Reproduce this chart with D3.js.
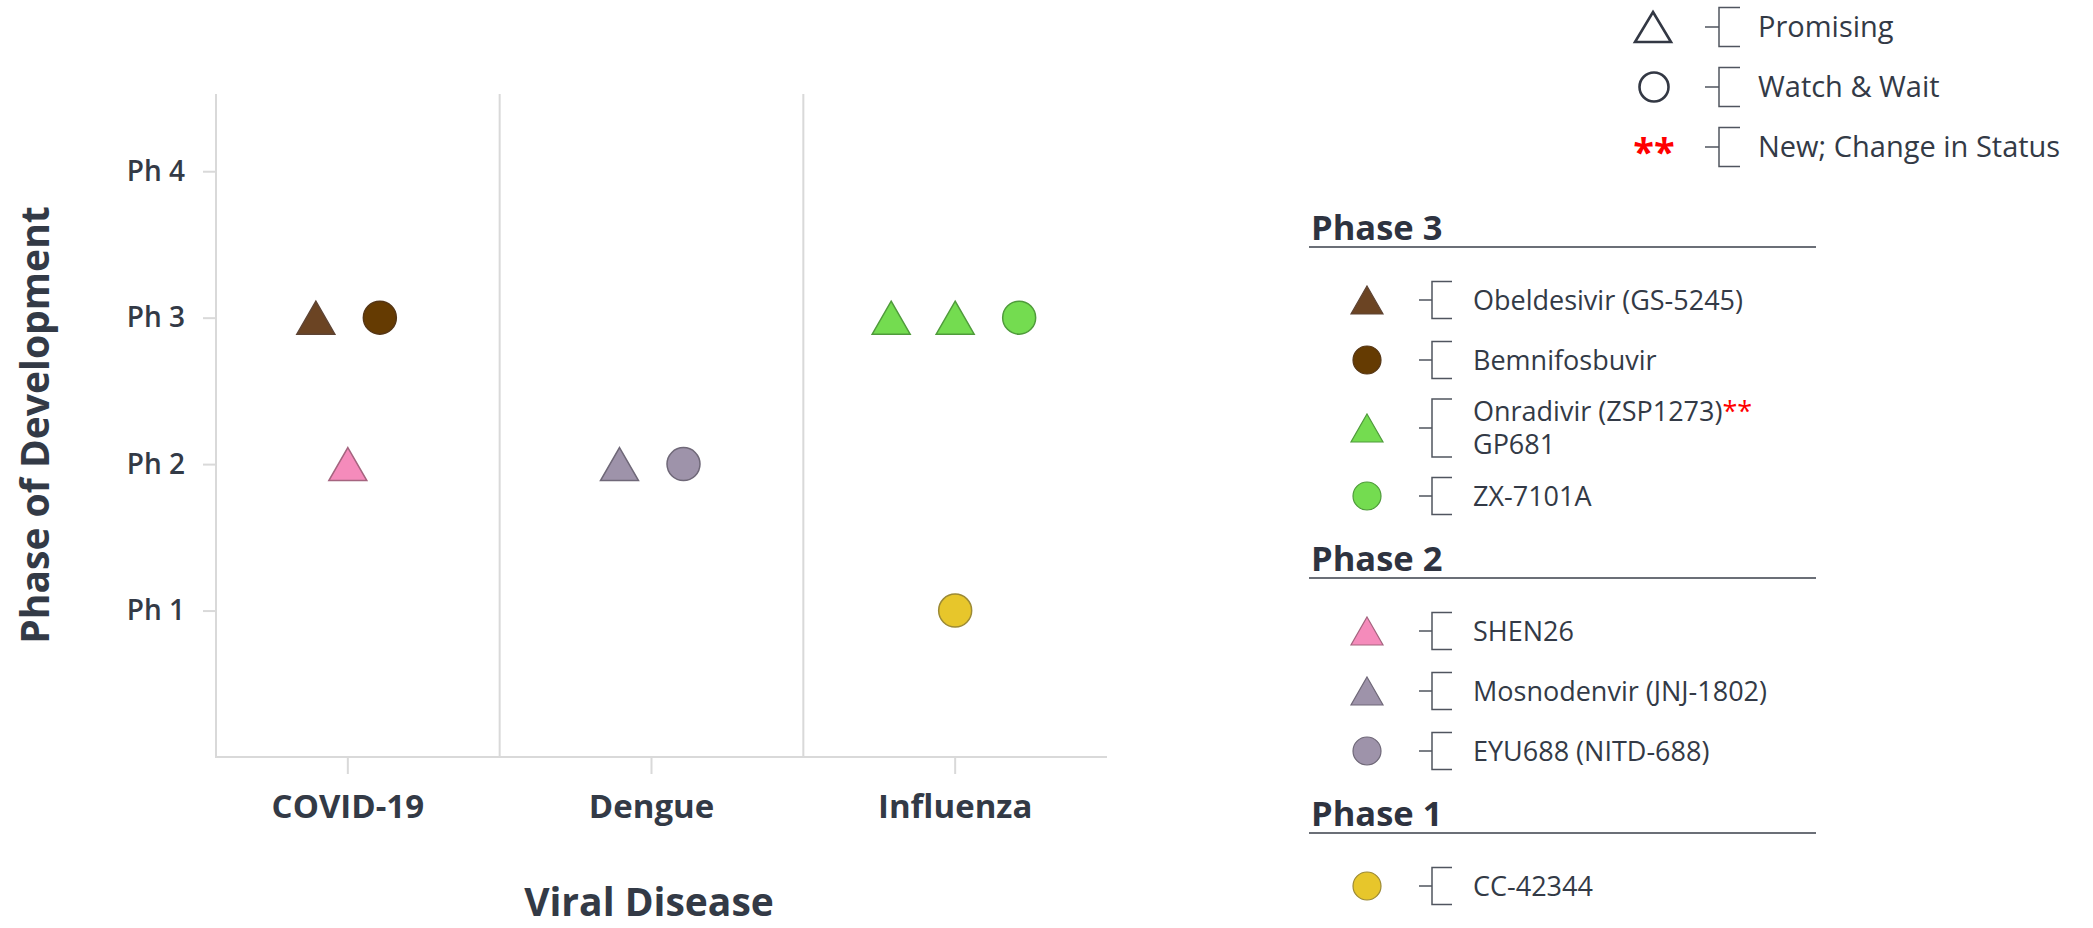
<!DOCTYPE html>
<html>
<head>
<meta charset="utf-8">
<script src="https://cdn.jsdelivr.net/npm/d3@7"></script>
<style>
  body { margin: 0; background: #ffffff; }
  svg text { font-family: "Open Sans", "Noto Sans", sans-serif; }
</style>
</head>
<body>
<div id="chart"></div>
<script>
// categories and ticks
const diseases = ["COVID-19", "Dengue", "Influenza"];
const phaseValues = [1, 2, 3, 4];
const phaseTickLabels = ["Ph 1", "Ph 2", "Ph 3", "Ph 4"];
const legendPhases = [3, 2, 1];
const legendPhaseTitles = ["Phase 3", "Phase 2", "Phase 1"];
const keyLabels = ["Promising", "Watch & Wait", "New; Change in Status"];

// one entry per drug
const drugNames = ["Obeldesivir (GS-5245)", "Bemnifosbuvir", "Onradivir (ZSP1273)", "GP681", "ZX-7101A",
                   "SHEN26", "Mosnodenvir (JNJ-1802)", "EYU688 (NITD-688)", "CC-42344"];
const drugDisease = ["COVID-19", "COVID-19", "Influenza", "Influenza", "Influenza",
                     "COVID-19", "Dengue", "Dengue", "Influenza"];
const drugPhase = [3, 3, 3, 3, 3, 2, 2, 2, 1];
const drugStatus = ["Promising", "Watch & Wait", "Promising", "Promising", "Watch & Wait",
                    "Promising", "Promising", "Watch & Wait", "Watch & Wait"];
// place of the marker inside its disease column (-1 left ... 1 right)
const drugSlot = [-0.5, 0.5, -1, 0, 1, 0, -0.5, 0.5, 0];
const drugNew = [false, false, true, false, false, false, false, false, false];
const drugFill = ["#6b4423", "#653b02", "#74dc50", "#74dc50", "#74dc50",
                  "#f58bbb", "#9e93aa", "#9e93aa", "#e7c62b"];
const drugStroke = ["#5e4434", "#553616", "#4f9b3b", "#4f9b3b", "#4f9b3b",
                    "#a5647f", "#6f6878", "#6f6878", "#9c8a35"];

const textColor = "#333a46";
const gridColor = "#d9d9d9";

const width = 2093, height = 928;
const plot = { left: 216, right: 1107, top: 94, bottom: 757 };

const svg = d3.select("#chart").append("svg")
    .attr("width", width)
    .attr("height", height);

const x = d3.scaleBand()
    .domain(diseases)
    .range([196, plot.right])
    .padding(0);

const y = d3.scaleLinear()
    .domain([0, 4.5])
    .range([plot.bottom, 98]);

const slotSpacing = 64;

function trianglePath(cx, cy, w, h) {
    var p = d3.path();
    p.moveTo(cx, cy - h / 2);
    p.lineTo(cx + w / 2, cy + h / 2);
    p.lineTo(cx - w / 2, cy + h / 2);
    p.closePath();
    return p.toString();
}

// ---- axes ----
const yAxis = svg.append("g")
    .attr("transform", "translate(" + plot.left + ",0)")
    .call(d3.axisLeft(y)
        .tickValues(phaseValues)
        .tickFormat(function(d, i) { return phaseTickLabels[i]; })
        .tickSize(13)
        .tickPadding(18));
yAxis.select(".domain").remove();
yAxis.selectAll("line").attr("stroke", gridColor).attr("stroke-width", 2);
yAxis.selectAll("text")
    .attr("fill", textColor)
    .style("font-size", "28px")
    .style("font-weight", "600");

const xAxis = svg.append("g")
    .attr("transform", "translate(0," + plot.bottom + ")")
    .call(d3.axisBottom(x)
        .tickSize(17)
        .tickPadding(21));
xAxis.select(".domain").remove();
xAxis.selectAll("line").attr("stroke", gridColor).attr("stroke-width", 2);
xAxis.selectAll("text")
    .attr("fill", textColor)
    .style("font-size", "33px")
    .style("font-weight", "700");

// plot frame: left axis, bottom axis, column separators
svg.append("line")
    .attr("x1", plot.left).attr("x2", plot.left)
    .attr("y1", plot.top).attr("y2", plot.bottom + 1)
    .attr("stroke", gridColor).attr("stroke-width", 2);
svg.append("line")
    .attr("x1", plot.left).attr("x2", plot.right)
    .attr("y1", plot.bottom).attr("y2", plot.bottom)
    .attr("stroke", gridColor).attr("stroke-width", 2);
svg.append("g").selectAll("line")
    .data(diseases.slice(1))
    .enter().append("line")
    .attr("x1", function(d) { return x(d); })
    .attr("x2", function(d) { return x(d); })
    .attr("y1", plot.top)
    .attr("y2", plot.bottom)
    .attr("stroke", gridColor).attr("stroke-width", 2);

// axis titles
svg.append("text")
    .attr("transform", "translate(49,425) rotate(-90)")
    .attr("text-anchor", "middle")
    .attr("fill", textColor)
    .style("font-size", "39px")
    .style("font-weight", "700")
    .text("Phase of Development");

svg.append("text")
    .attr("x", 649)
    .attr("y", 916)
    .attr("text-anchor", "middle")
    .attr("fill", textColor)
    .style("font-size", "39px")
    .style("font-weight", "700")
    .text("Viral Disease");

// ---- markers ----
const drugs = drugNames.map(function(name, i) {
    return {
        name: name, disease: drugDisease[i], phase: drugPhase[i], status: drugStatus[i],
        slot: drugSlot[i], isNew: drugNew[i], fill: drugFill[i], stroke: drugStroke[i]
    };
});

function markerX(d) { return x(d.disease) + x.bandwidth() / 2 + d.slot * slotSpacing; }

const markers = svg.append("g");
markers.selectAll("path")
    .data(drugs.filter(function(d) { return d.status === "Promising"; }))
    .enter().append("path")
    .attr("d", function(d) { return trianglePath(markerX(d), y(d.phase), 38, 33); })
    .attr("fill", function(d) { return d.fill; })
    .attr("stroke", function(d) { return d.stroke; })
    .attr("stroke-width", 1.5);
markers.selectAll("circle")
    .data(drugs.filter(function(d) { return d.status === "Watch & Wait"; }))
    .enter().append("circle")
    .attr("cx", markerX)
    .attr("cy", function(d) { return y(d.phase); })
    .attr("r", 16.5)
    .attr("fill", function(d) { return d.fill; })
    .attr("stroke", function(d) { return d.stroke; })
    .attr("stroke-width", 1.5);

// ---- legend ----
function bracket(g, x0, cy, half, tick, arm) {
    var p = d3.path();
    p.moveTo(x0, cy); p.lineTo(x0 + tick, cy);
    p.moveTo(x0 + tick + arm, cy - half);
    p.lineTo(x0 + tick, cy - half);
    p.lineTo(x0 + tick, cy + half);
    p.lineTo(x0 + tick + arm, cy + half);
    g.append("path")
        .attr("d", p.toString())
        .attr("fill", "none")
        .attr("stroke", "#50555f")
        .attr("stroke-width", 1.5);
}

// key for shapes
const key = svg.append("g");
keyLabels.forEach(function(label, i) {
    var cy = 27 + i * 60;
    if (i === 0) {
        key.append("path")
            .attr("d", trianglePath(1653, cy, 36, 30))
            .attr("fill", "none").attr("stroke", "#333844").attr("stroke-width", 2.6)
            .attr("stroke-linejoin", "miter");
    } else if (i === 1) {
        key.append("circle")
            .attr("cx", 1654).attr("cy", cy).attr("r", 14.5)
            .attr("fill", "none").attr("stroke", "#333844").attr("stroke-width", 2.6);
    } else {
        key.append("text")
            .attr("x", 1654).attr("y", cy + 19)
            .attr("text-anchor", "middle")
            .attr("fill", "#ff0000")
            .style("font-size", "38px").style("font-weight", "700")
            .text("**");
    }
    bracket(key, 1705, cy, 19.5, 14, 21);
    key.append("text")
        .attr("x", 1758).attr("y", cy + 10)
        .attr("fill", textColor)
        .style("font-size", "29px")
        .text(label);
});

// drug legend, grouped by phase; drugs with same phase, shape and colour share a row
const legend = svg.append("g");
let headerY = 240;
legendPhases.forEach(function(phase, pi) {
    legend.append("text")
        .attr("x", 1311).attr("y", headerY)
        .attr("fill", "#2e3340")
        .style("font-size", "34.5px").style("font-weight", "700")
        .text(legendPhaseTitles[pi]);
    legend.append("line")
        .attr("x1", 1309).attr("x2", 1816)
        .attr("y1", headerY + 7).attr("y2", headerY + 7)
        .attr("stroke", "#3a3f4a").attr("stroke-width", 1.5);

    var rows = [];
    drugs.filter(function(d) { return d.phase === phase; }).forEach(function(d) {
        var last = rows[rows.length - 1];
        if (last && last[0].fill === d.fill && last[0].status === d.status) last.push(d);
        else rows.push([d]);
    });

    var cy = headerY + 30;
    rows.forEach(function(row, ri) {
        var half = row.length > 1 ? 38 : 30;
        cy += (ri === 0 ? 30 : half);
        var d = row[0];
        if (d.status === "Promising") {
            legend.append("path")
                .attr("d", trianglePath(1367, cy, 32, 28))
                .attr("fill", d.fill).attr("stroke", d.stroke).attr("stroke-width", 1.2);
        } else {
            legend.append("circle")
                .attr("cx", 1367).attr("cy", cy).attr("r", 14)
                .attr("fill", d.fill).attr("stroke", d.stroke).attr("stroke-width", 1.2);
        }
        bracket(legend, 1419, cy, row.length > 1 ? 29 : 18.5, 13, 20);
        row.forEach(function(item, k) {
            var ty = cy + 9.5 + (k - (row.length - 1) / 2) * 33;
            var t = legend.append("text")
                .attr("x", 1473).attr("y", ty)
                .attr("fill", textColor)
                .style("font-size", "27px");
            t.append("tspan").text(item.name);
            if (item.isNew) t.append("tspan").attr("fill", "#ff0000").text("**");
        });
        cy += half;
    });
    headerY = cy + 45;
});
</script>
</body>
</html>
